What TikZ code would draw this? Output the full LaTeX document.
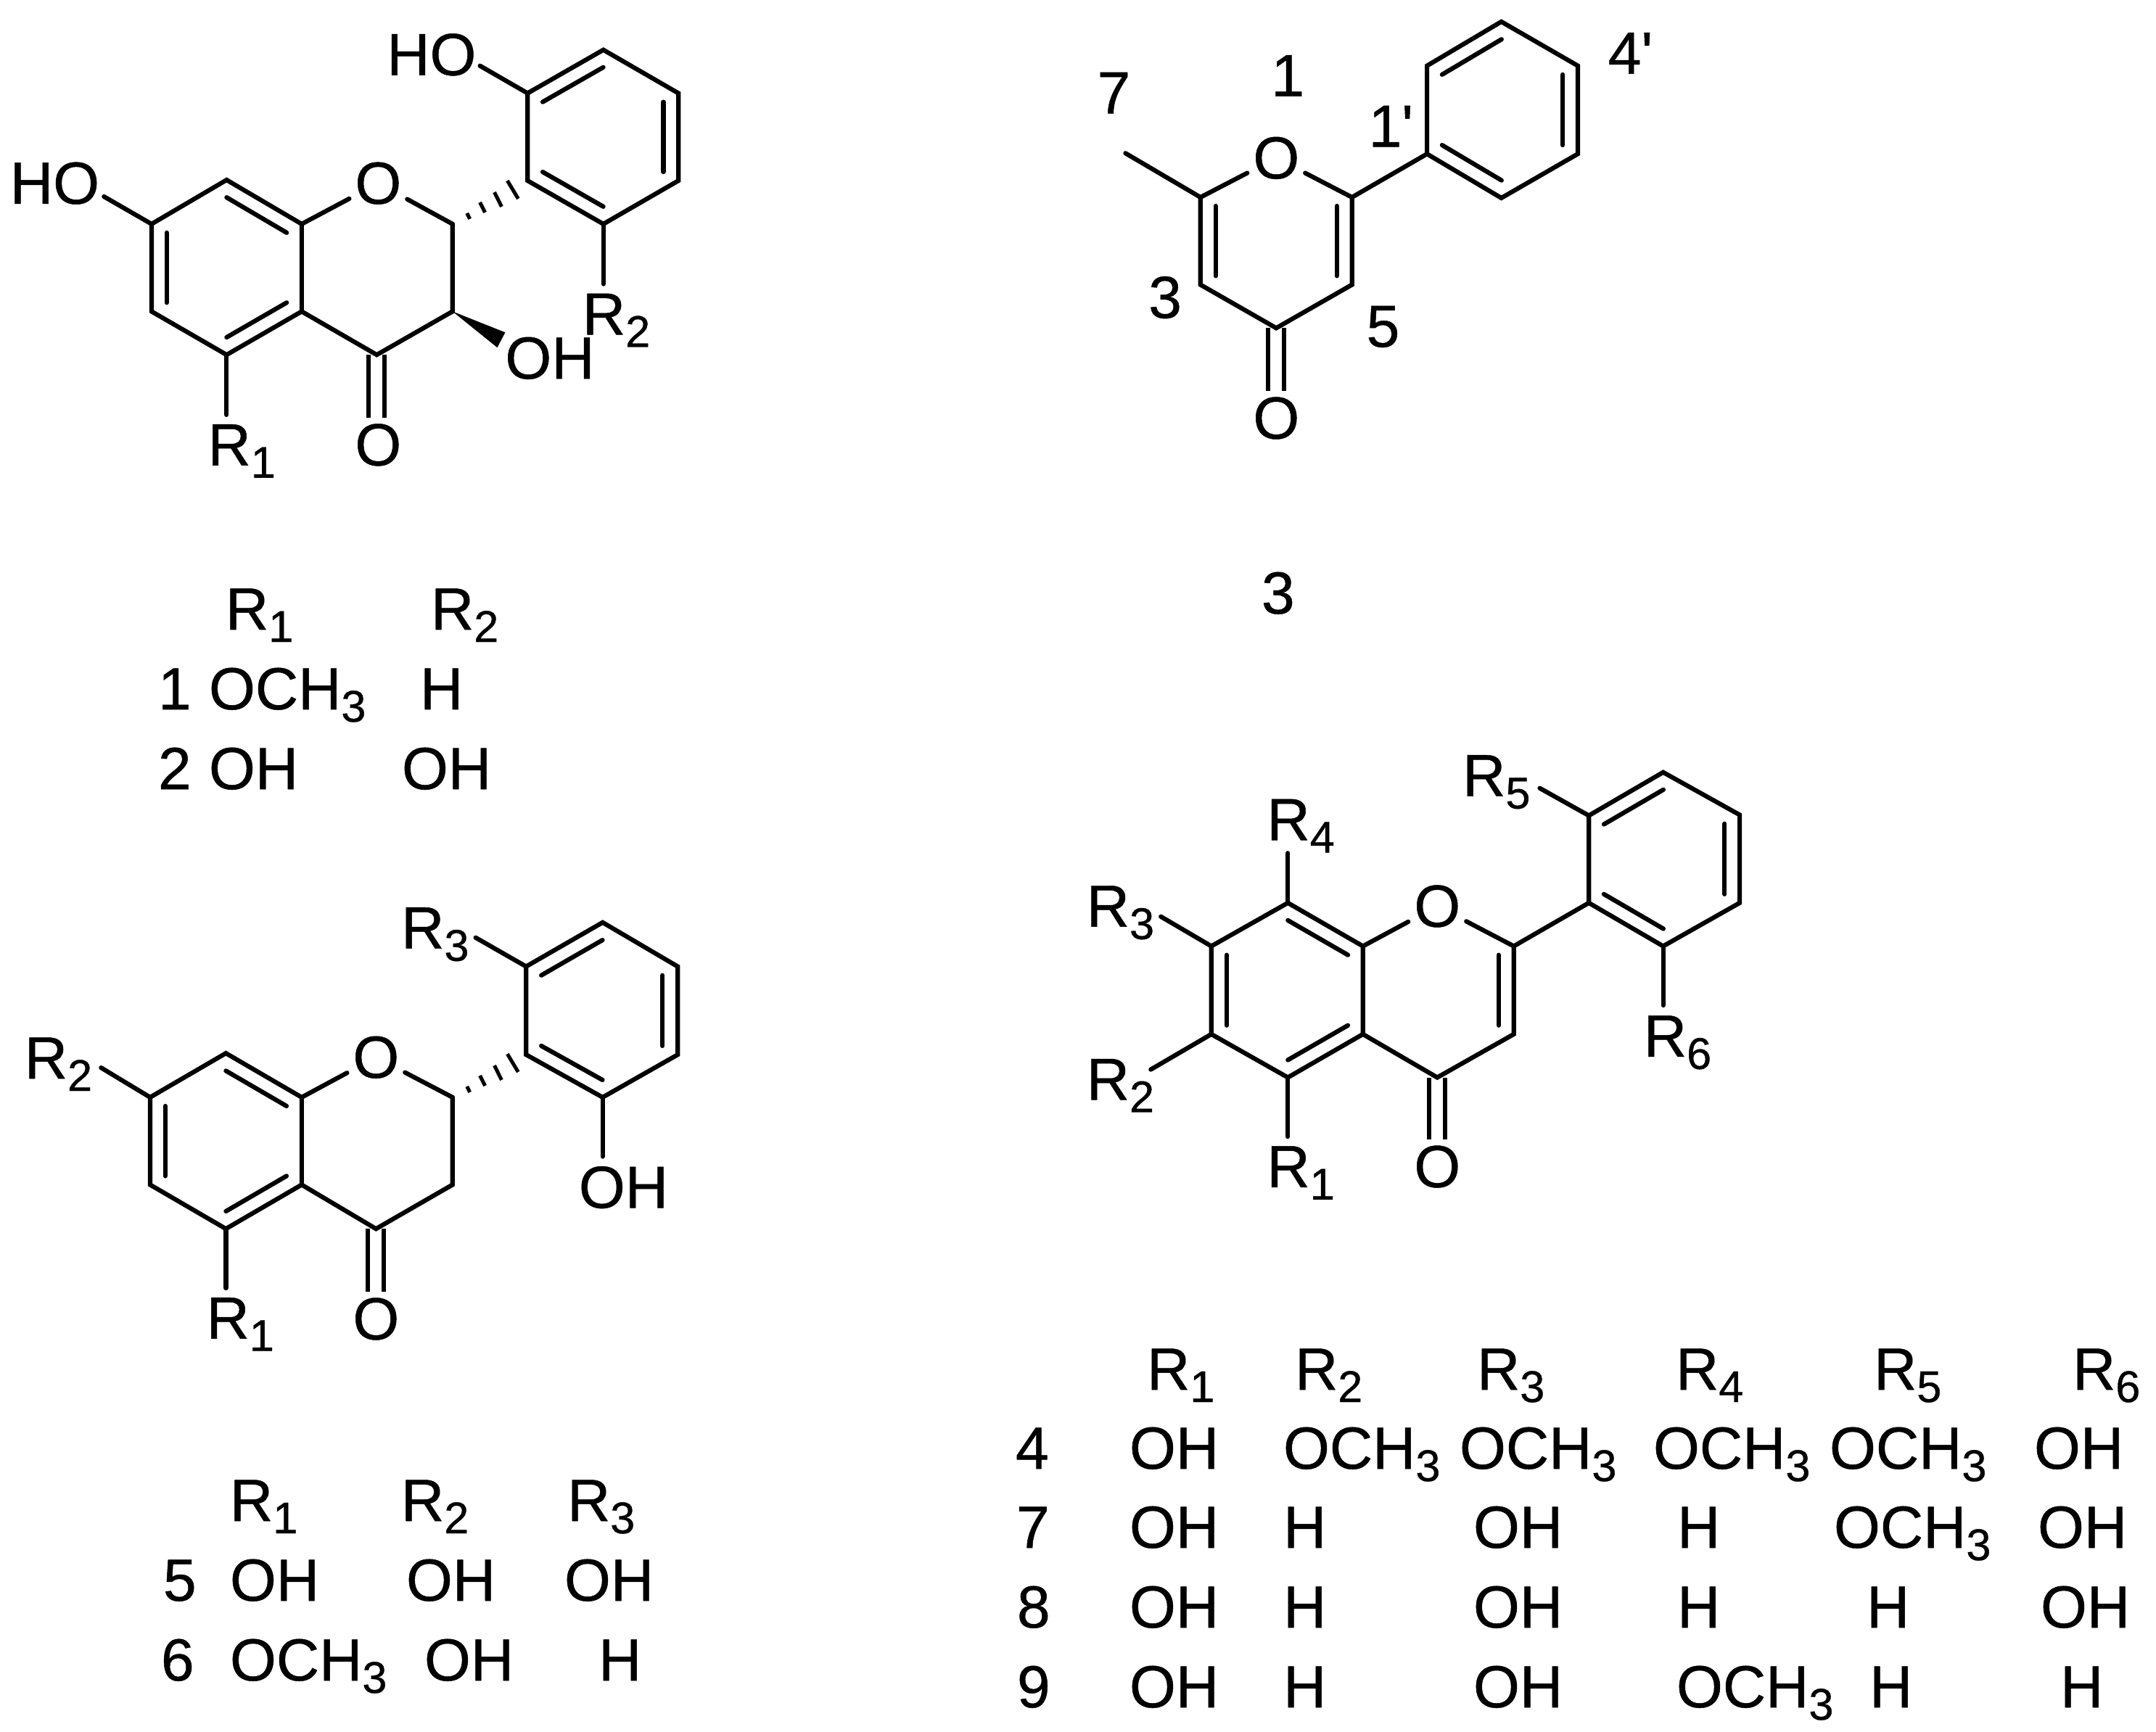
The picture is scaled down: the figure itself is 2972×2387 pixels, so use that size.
\documentclass[tikz,border=0pt]{standalone}
\usepackage{fontspec}
\setmainfont{Liberation Sans}[Ligatures=TeXOff,FakeBold=0.6]
\usetikzlibrary{calc}
\newcommand{\lowidx}[1]{\raisebox{-.17cm}{\fontsize{17.4}{20}\selectfont #1}}
\newcommand{\Rn}[1]{R\lowidx{#1}}
\newcommand{\OMe}{OCH\lowidx{3}}
\newcommand{\innerbond}[3]{\draw[bond] ($(#1)!.2!(#3)$) -- ($(#2)!.2!(#3)$);}
\newcommand{\hashbond}[1]{%
  \draw[hash] ($(#1)+(20,-15)$) -- ($(#1)+(24,-7)$);
  \draw[hash] ($(#1)+(38,-30)$) -- ($(#1)+(45,-16)$);
  \draw[hash] ($(#1)+(58,-44)$) -- ($(#1)+(68,-24)$);
  \draw[hash] ($(#1)+(76,-60)$) -- ($(#1)+(91,-35)$);}
\newcommand{\carbonyl}[2]{%
  \draw[bond,line cap=butt] ([xshift=-.11cm]#1) -- ([xshift=-.11cm]#1 |- #2.north);
  \draw[bond,line cap=butt] ([xshift=.11cm]#1) -- ([xshift=.11cm]#1 |- #2.north);}
\tikzset{
  bond/.style={line width=.062cm,line join=miter,line cap=round,black},
  hash/.style={line width=.05cm,black},
  lab/.style={anchor=base west,inner sep=0pt,outer sep=0pt,font=\fontsize{23.34}{28}\selectfont},
  atom/.style={anchor=base,inner sep=.08cm,outer sep=0pt,font=\fontsize{23.34}{28}\selectfont}
}
\begin{document}
\begin{tikzpicture}[x=.01cm,y=-.01cm]
\fill[white] (0,0) rectangle (2972,2387);
\useasboundingbox (0,0) rectangle (2972,2387);

%% ---------- structure 1/2 ----------
\begin{scope}[xscale=.9949,yscale=.9963]
\coordinate (a1) at (314,249); \coordinate (a2) at (210,310); \coordinate (a3) at (210,431);
\coordinate (a4) at (314,491); \coordinate (a5) at (418,431); \coordinate (a6) at (418,310);
\coordinate (a7) at (627,310); \coordinate (a8) at (627,431); \coordinate (a9) at (522,491);
\coordinate (b1) at (731,129); \coordinate (b2) at (836,69);  \coordinate (b3) at (940,129);
\coordinate (b4) at (940,250); \coordinate (b5) at (836,310); \coordinate (b6) at (731,250);
\coordinate (acen) at ($(a1)!.5!(a4)$); \coordinate (bcen) at ($(b1)!.5!(b4)$);
\coordinate (aHOend) at (144,272); \coordinate (bHOend) at (665,91);
\coordinate (aR1end) at (314,574); \coordinate (aR2end) at (836,393);
\coordinate (awa) at (700,460); \coordinate (awb) at (689,481);
\node[atom] (aO) at (524,282) {O};
\node[atom] (aOk) at (524,644) {O};
\draw[bond] (a1)--(a2)--(a3)--(a4)--(a5)--(a6)--cycle;
\draw[bond] (a5)--(a9)--(a8)--(a7);
\draw[bond] (a6)--(aO); \draw[bond] (aO)--(a7);
\draw[bond] (b1)--(b2)--(b3)--(b4)--(b5)--(b6)--cycle;
\innerbond{a1}{a6}{acen} \innerbond{a2}{a3}{acen} \innerbond{a4}{a5}{acen}
\innerbond{b1}{b2}{bcen} \innerbond{b3}{b4}{bcen} \innerbond{b5}{b6}{bcen}
\draw[bond] (a2)--(aHOend); \draw[bond] (b1)--(bHOend);
\draw[bond] (a4)--(aR1end); \draw[bond] (b5)--(aR2end);
\carbonyl{a9}{aOk}
\hashbond{a7}
\fill (a8) -- (awa) -- (awb) -- cycle;
\node[lab] (aHO1) at (14,282) {HO};
\node[lab] (aHO2) at (536,104) {HO};
\node[lab] (aR1) at (288,644) {\Rn{1}};
\node[lab] (aR2) at (807,463) {\Rn{2}};
\node[lab] (aOH) at (700,524) {OH};
\end{scope}

%% table 1/2
\node[lab] (t1r1) at (311,868) {\Rn{1}};
\node[lab] (t1r2) at (594,868) {\Rn{2}};
\node[lab] (t1n1) at (218,978) {1};
\node[lab] (t1a1) at (288,978) {\OMe};
\node[lab] (t1b1) at (579,978) {H};
\node[lab] (t1n2) at (218,1088) {2};
\node[lab] (t1a2) at (288,1088) {OH};
\node[lab] (t1b2) at (554,1088) {OH};

%% ---------- structure 3 ----------
\begin{scope}[shift={(1450,0)},xscale=.9946,yscale=.9963,shift={(-1450,0)}]
\coordinate (p1) at (1656,273); \coordinate (p2) at (1656,394); \coordinate (p3) at (1761,454);
\coordinate (p4) at (1866,394); \coordinate (p5) at (1866,273); \coordinate (pme) at (1552,212);
\coordinate (pcen) at (1761,333);
\coordinate (q1) at (1970,213); \coordinate (q2) at (1970,91); \coordinate (q3) at (2073,30);
\coordinate (q4) at (2179,91);  \coordinate (q5) at (2179,213); \coordinate (q6) at (2073,274);
\coordinate (qcen) at ($(q1)!.5!(q4)$);
\node[atom] (pO) at (1761,247) {O};
\node[atom] (pOk) at (1761,607) {O};
\draw[bond] (p1)--(p2)--(p3)--(p4)--(p5);
\draw[bond] (pO)--(p1)--(pme);
\draw[bond] (pO)--(p5)--(q1);
\draw[bond] (q1)--(q2)--(q3)--(q4)--(q5)--(q6)--cycle;
\innerbond{p1}{p2}{pcen} \innerbond{p4}{p5}{pcen}
\innerbond{q2}{q3}{qcen} \innerbond{q4}{q5}{qcen} \innerbond{q6}{q1}{qcen}
\carbonyl{p3}{pOk}
\node[lab] (n7) at (1513,157) {7};
\node[lab] (n1) at (1754,133) {1};
\node[lab] (n1p) at (1889,203) {1'};
\node[lab] (n4p) at (2221,102) {4'};
\node[lab] (n3) at (1584,440) {3};
\node[lab] (n5) at (1886,480) {5};
\end{scope}
\node[lab] (ncomp) at (1739,846) {3};

%% ---------- structure 5/6 ----------
\begin{scope}[shift={(0,1220)},xscale=.9949,yscale=.9963,shift={(0,-1220)}]
\coordinate (c1) at (313,1453); \coordinate (c2) at (208,1514); \coordinate (c3) at (208,1635);
\coordinate (c4) at (313,1696); \coordinate (c5) at (418,1635); \coordinate (c6) at (418,1514);
\coordinate (c7) at (627,1514); \coordinate (c8) at (627,1635); \coordinate (c9) at (521,1696);
\coordinate (d1) at (729,1333); \coordinate (d2) at (835,1272); \coordinate (d3) at (939,1333);
\coordinate (d4) at (939,1455); \coordinate (d5) at (835,1514); \coordinate (d6) at (729,1455);
\coordinate (ccen) at ($(c1)!.5!(c4)$); \coordinate (dcen) at ($(d1)!.5!(d4)$);
\coordinate (cR2end) at (140,1473); \coordinate (dR3end) at (659,1293);
\coordinate (cR1end) at (313,1778); \coordinate (dOHend) at (835,1596);
\node[atom] (cO) at (521,1487) {O};
\node[atom] (cOk) at (521,1849) {O};
\draw[bond] (c1)--(c2)--(c3)--(c4)--(c5)--(c6)--cycle;
\draw[bond] (c5)--(c9)--(c8)--(c7);
\draw[bond] (c6)--(cO); \draw[bond] (cO)--(c7);
\draw[bond] (d1)--(d2)--(d3)--(d4)--(d5)--(d6)--cycle;
\innerbond{c1}{c6}{ccen} \innerbond{c2}{c3}{ccen} \innerbond{c4}{c5}{ccen}
\innerbond{d1}{d2}{dcen} \innerbond{d3}{d4}{dcen} \innerbond{d5}{d6}{dcen}
\draw[bond] (c2)--(cR2end); \draw[bond] (d1)--(dR3end);
\draw[bond] (c4)--(cR1end); \draw[bond] (d5)--(dOHend);
\carbonyl{c9}{cOk}
\hashbond{c7}
\node[lab] (cR1) at (286,1848) {\Rn{1}};
\node[lab] (cR2) at (34,1488) {\Rn{2}};
\node[lab] (cR3) at (556,1308) {\Rn{3}};
\node[lab] (cOH) at (802,1667) {OH};
\end{scope}

%% table 5/6
\node[lab] (t3r1) at (317,2097) {\Rn{1}};
\node[lab] (t3r2) at (553,2097) {\Rn{2}};
\node[lab] (t3r3) at (782,2097) {\Rn{3}};
\node[lab] (t3n1) at (225,2207) {5};
\node[lab] (t3a1) at (317,2207) {OH};
\node[lab] (t3b1) at (560,2207) {OH};
\node[lab] (t3c1) at (778,2207) {OH};
\node[lab] (t3n2) at (222,2317) {6};
\node[lab] (t3a2) at (317,2317) {\OMe};
\node[lab] (t3b2) at (585,2317) {OH};
\node[lab] (t3c2) at (825,2317) {H};

%% ---------- structure 4,7,8,9 ----------
\begin{scope}[shift={(1450,1030)},xscale=.9949,yscale=.9948,shift={(-1450,-1030)}]
\coordinate (e1) at (1777,1246); \coordinate (e2) at (1671,1306); \coordinate (e3) at (1671,1428);
\coordinate (e4) at (1777,1488); \coordinate (e5) at (1881,1428); \coordinate (e6) at (1881,1306);
\coordinate (e7) at (2090,1306); \coordinate (e8) at (2090,1428); \coordinate (e9) at (1984,1488);
\coordinate (f1) at (2194,1125); \coordinate (f2) at (2297,1065); \coordinate (f3) at (2403,1124);
\coordinate (f4) at (2403,1246); \coordinate (f5) at (2297,1306); \coordinate (f6) at (2194,1246);
\coordinate (ecen) at ($(e1)!.5!(e4)$); \coordinate (fcen) at ($(f1)!.5!(f4)$);
\coordinate (gcen) at ($(e5)!.5!(e7)$);
\coordinate (eR4end) at (1777,1177); \coordinate (eR1end) at (1777,1570);
\coordinate (eR2end) at (1587,1477); \coordinate (eR3end) at (1601,1265);
\coordinate (fR5end) at (2126,1087); \coordinate (fR6end) at (2297,1388);
\node[atom] (eO) at (1984,1279) {O};
\node[atom] (eOk) at (1984,1640) {O};
\draw[bond] (e1)--(e2)--(e3)--(e4)--(e5)--(e6)--cycle;
\draw[bond] (e5)--(e9)--(e8)--(e7)--(f6);
\draw[bond] (e6)--(eO); \draw[bond] (eO)--(e7);
\draw[bond] (f1)--(f2)--(f3)--(f4)--(f5)--(f6)--cycle;
\innerbond{e1}{e6}{ecen} \innerbond{e2}{e3}{ecen} \innerbond{e4}{e5}{ecen}
\innerbond{e7}{e8}{gcen}
\innerbond{f1}{f2}{fcen} \innerbond{f3}{f4}{fcen} \innerbond{f5}{f6}{fcen}
\draw[bond] (e1)--(eR4end); \draw[bond] (e4)--(eR1end);
\draw[bond] (e3)--(eR2end); \draw[bond] (e2)--(eR3end);
\draw[bond] (f1)--(fR5end); \draw[bond] (f5)--(fR6end);
\carbonyl{e9}{eOk}
\node[lab] (eR1) at (1748,1640) {\Rn{1}};
\node[lab] (eR2) at (1498,1519) {\Rn{2}};
\node[lab] (eR3) at (1498,1279) {\Rn{3}};
\node[lab] (eR4) at (1748,1159) {\Rn{4}};
\node[lab] (fR5) at (2019,1098) {\Rn{5}};
\node[lab] (fR6) at (2270,1459) {\Rn{6}};
\end{scope}

%% table 4,7,8,9
\node[lab] (t4r1) at (1581,1916) {\Rn{1}};
\node[lab] (t4r2) at (1785,1916) {\Rn{2}};
\node[lab] (t4r3) at (2036,1916) {\Rn{3}};
\node[lab] (t4r4) at (2310,1916) {\Rn{4}};
\node[lab] (t4r5) at (2583,1916) {\Rn{5}};
\node[lab] (t4r6) at (2857,1916) {\Rn{6}};
\node[lab] (t4n1) at (1400,2025) {4};
\node[lab] (t4a1) at (1557,2025) {OH};
\node[lab] (t4b1) at (1769,2025) {\OMe};
\node[lab] (t4c1) at (2012,2025) {\OMe};
\node[lab] (t4d1) at (2279,2025) {\OMe};
\node[lab] (t4e1) at (2522,2025) {\OMe};
\node[lab] (t4f1) at (2804,2025) {OH};
\node[lab] (t4n2) at (1401,2134) {7};
\node[lab] (t4a2) at (1557,2134) {OH};
\node[lab] (t4b2) at (1769,2134) {H};
\node[lab] (t4c2) at (2031,2134) {OH};
\node[lab] (t4d2) at (2312,2134) {H};
\node[lab] (t4e2) at (2528,2134) {\OMe};
\node[lab] (t4f2) at (2809,2134) {OH};
\node[lab] (t4n3) at (1402,2244) {8};
\node[lab] (t4a3) at (1557,2244) {OH};
\node[lab] (t4b3) at (1769,2244) {H};
\node[lab] (t4c3) at (2031,2244) {OH};
\node[lab] (t4d3) at (2312,2244) {H};
\node[lab] (t4e3) at (2573,2244) {H};
\node[lab] (t4f3) at (2813,2244) {OH};
\node[lab] (t4n4) at (1402,2354) {9};
\node[lab] (t4a4) at (1557,2354) {OH};
\node[lab] (t4b4) at (1769,2354) {H};
\node[lab] (t4c4) at (2031,2354) {OH};
\node[lab] (t4d4) at (2311,2354) {\OMe};
\node[lab] (t4e4) at (2577,2354) {H};
\node[lab] (t4f4) at (2840,2354) {H};
\end{tikzpicture}
\end{document}
